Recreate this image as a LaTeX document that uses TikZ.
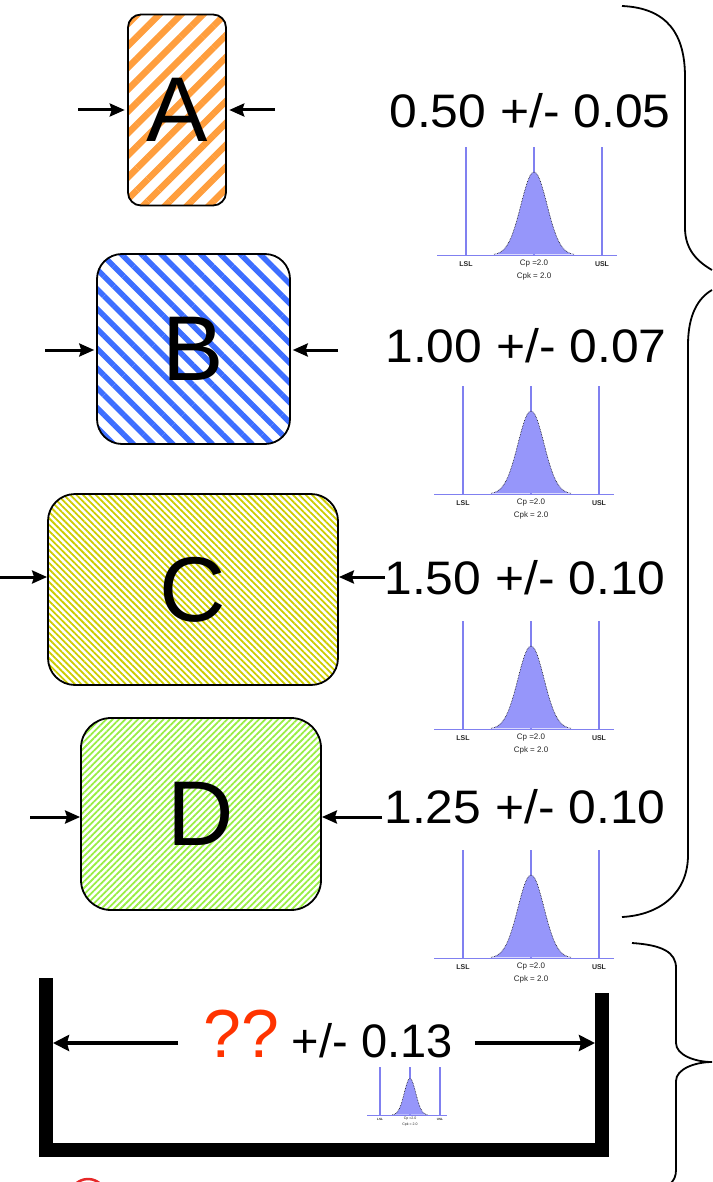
\documentclass[tikz,border=0pt]{standalone}
\usepackage{fontspec}
\setmainfont{Liberation Sans}
\newfontfamily\tolfont[FakeStretch=1.06]{Liberation Sans}
\usetikzlibrary{arrows.meta,patterns.meta}

\definecolor{stripeA}{RGB}{255,158,61}
\definecolor{stripeB}{RGB}{61,110,255}
\definecolor{stripeC}{RGB}{204,204,0}
\definecolor{stripeD}{RGB}{153,238,68}
\definecolor{spec}{RGB}{128,128,240}
\definecolor{bell}{RGB}{150,150,250}
\definecolor{qred}{RGB}{255,51,0}
\definecolor{ringred}{RGB}{230,40,40}

% small capability plot: spec limits, target and a normal spread
\tikzset{
  plotlbl/.style={inner sep=0pt, transform shape, text=black!85},
  distplot/.pic={
    \draw[spec, line width=1.2pt] (-68,0) -- (-68,-108);
    \draw[spec, line width=1.2pt] (68,0) -- (68,-108);
    \draw[spec, line width=1.6pt] (0,0) -- (0,-108);
    \fill[bell] plot[domain=-40:40, samples=61] (\x,{-83*exp(-\x*\x/338)}) -- cycle;
    \draw[densely dotted, line width=0.6pt] plot[domain=-40:40, samples=61] (\x,{-83*exp(-\x*\x/338)});
    \draw[line width=1pt] (-42,0) -- (-33,0) (33,0) -- (42,0);
    \draw[spec, line width=1pt] (-97,0) -- (83,0);
    \node[plotlbl, font=\bfseries\fontsize{7}{8}\selectfont] (lsl) at (-68,9) {LSL};
    \node[plotlbl, font=\bfseries\fontsize{7}{8}\selectfont] (usl) at (68,9) {USL};
    \node[plotlbl, font=\fontsize{8}{9}\selectfont] (cp) at (0,9) {Cp =2.0};
    \node[plotlbl, font=\fontsize{8}{9}\selectfont] (cpk) at (0,21) {Cpk = 2.0};
  }
}

\begin{document}
\begin{tikzpicture}[line cap=butt, x=1pt, y=-1pt,
  >={Stealth[length=15pt,width=13pt,inset=2pt]},
  box/.style={draw, line width=1.8pt, inner sep=0pt, font=\fontsize{92}{96}\selectfont},
  feed/.style={->, line width=3pt},
  bigfeed/.style={-{Stealth[length=16pt,width=16pt,inset=2pt]}, line width=4pt},
  val/.style={anchor=base, inner sep=0pt, font=\tolfont\fontsize{47}{50}\selectfont},
  brace/.style={line width=1.8pt}]
\useasboundingbox (0,0) rectangle (712,1182);

% parts
\node[box, rounded corners=13pt, minimum width=98, minimum height=191,
  pattern={Lines[angle=45,distance=15.5pt,line width=6.5pt]}, pattern color=stripeA] (A) at (177,110) {A};
\node[box, rounded corners=25pt, minimum width=193, minimum height=190,
  pattern={Lines[angle=-45,distance=14pt,line width=5.5pt]}, pattern color=stripeB] (B) at (193.5,349) {B};
\node[box, rounded corners=27pt, minimum width=290, minimum height=191,
  pattern={Lines[angle=-45,distance=4.5pt,line width=1.8pt]}, pattern color=stripeC] (C) at (193,589.5) {C};
\node[box, rounded corners=30pt, minimum width=240, minimum height=192,
  pattern={Lines[angle=45,distance=4.5pt,line width=1.8pt]}, pattern color=stripeD] (D) at (201,814) {D};

% squeeze arrows
\coordinate (A-l) at (78,110);  \coordinate (A-r) at (275,110);
\coordinate (B-l) at (45,350);  \coordinate (B-r) at (338,350);
\coordinate (C-l) at (0,577);   \coordinate (C-r) at (385,577);
\coordinate (D-l) at (30,817);  \coordinate (D-r) at (382,817);
\foreach \p in {A,B,C,D}{
  \draw[feed] (\p-l) -- (\p-l -| \p.west);
  \draw[feed] (\p-r) -- (\p-r -| \p.east);
}

% tolerances
\node[val] (tolA) at (530,128) {0.50 +/- 0.05};
\node[val] (tolB) at (526,362) {1.00 +/- 0.07};
\node[val] (tolC) at (525,594) {1.50 +/- 0.10};
\node[val] (tolD) at (525,823) {1.25 +/- 0.10};

\pic (pA) at (534,255) {distplot};
\pic (pB) at (531,494) {distplot};
\pic (pC) at (531,729) {distplot};
\pic (pD) at (531,958) {distplot};

% housing
\draw[line width=14pt, line join=miter] (46,978) -- (46,1150) -- (602,1150) -- (602,993);
\coordinate (wallL) at (53,1043);
\coordinate (wallR) at (595,1043);
\node[inner sep=0pt, anchor=base west, font=\fontsize{47}{50}\selectfont] (total) at (203,1057)
  {{\color{qred}\fontsize{68}{70}\selectfont ??}\ +/- 0.13};
\draw[bigfeed, shorten <=25pt] (total.west |- wallL) -- (wallL);
\draw[bigfeed, shorten <=22pt] (total.east |- wallR) -- (wallR);
\pic[scale=0.44] (pS) at (410,1115) {distplot};

% braces
\draw[brace] (622,6) .. controls (668,8) and (685,35) .. (685,77) -- (685,228)
  .. controls (685,250) and (698,262) .. (712,270);
\draw[brace] (712,290) .. controls (698,298) and (688,315) .. (688,345) -- (688,855)
  .. controls (688,893) and (660,915) .. (622,917);
\draw[brace] (632,943) .. controls (662,945) and (676,952) .. (676,968) -- (676,1043)
  .. controls (676,1055) and (695,1062) .. (712,1062)
  .. controls (695,1062) and (676,1069) .. (676,1081) -- (676,1170)
  .. controls (676,1176) and (674,1180) .. (671,1183);

\begin{scope}
  \clip (0,0) rectangle (712,1182);
  \draw[ringred, line width=2.5pt] (88,1197) circle (18);
\end{scope}
\end{tikzpicture}
\end{document}
